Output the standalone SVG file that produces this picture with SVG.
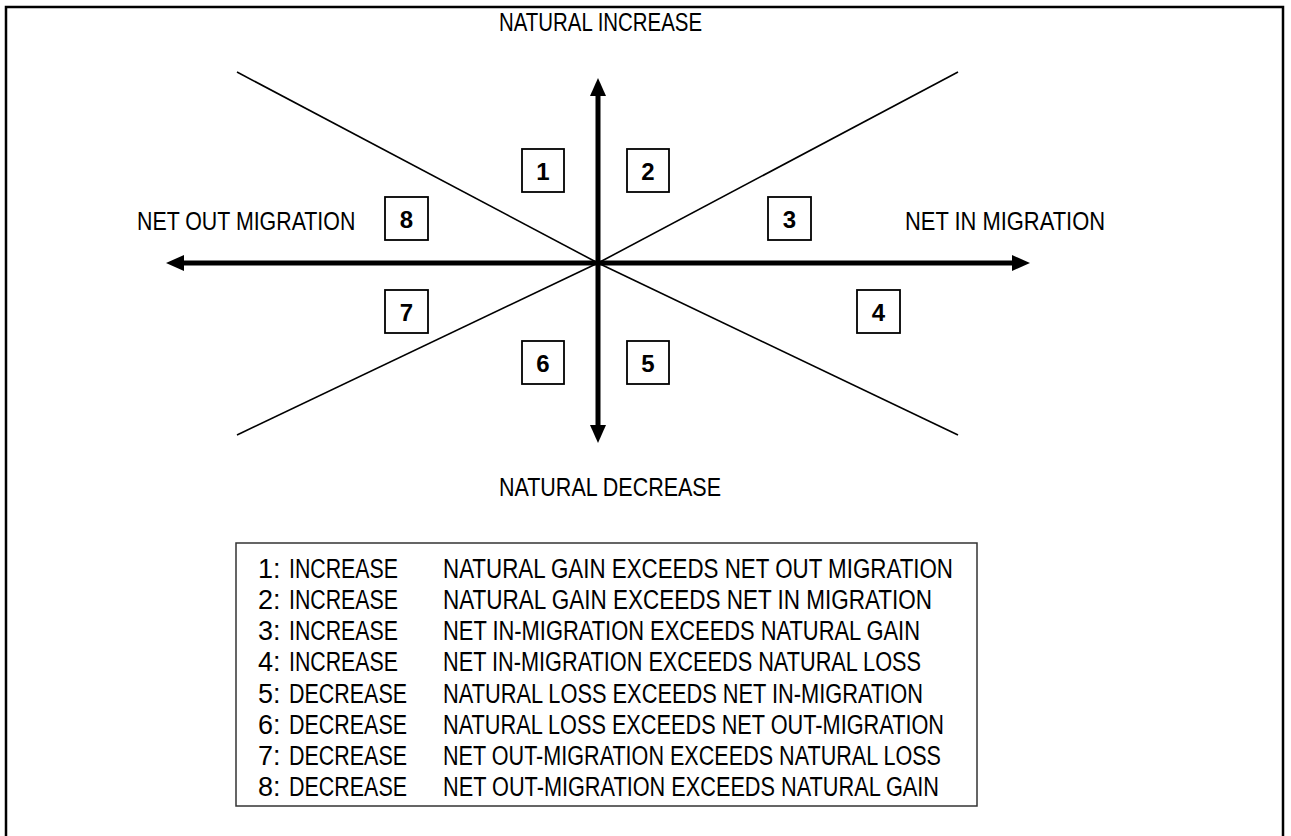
<svg xmlns="http://www.w3.org/2000/svg" width="1291" height="836" viewBox="0 0 1291 836">
<defs>
<style>
.t{font-family:"Liberation Sans Narrow","Liberation Sans",Arial,sans-serif;fill:#000}
.lab{font-size:26px}
.leg{font-size:27px}
.num{font-size:24px;font-weight:bold;text-anchor:middle}
.box{fill:#fff;stroke:#000;stroke-width:1.8}
.axis{stroke:#000;stroke-width:5;fill:none}
.diag{stroke:#000;stroke-width:1.6;fill:none}
</style>
<marker id="ah" markerUnits="userSpaceOnUse" markerWidth="20" markerHeight="18" refX="8" refY="8" orient="auto" viewBox="0 0 20 18">
<path d="M0,0 L18,8 L0,16 z" fill="#000"/>
</marker>
</defs>
<rect x="0" y="0" width="1291" height="836" fill="#fff"/>
<rect x="6" y="7" width="1277" height="900" fill="none" stroke="#000" stroke-width="2.5"/>
<g id="connectors">
<line class="diag" x1="237" y1="72" x2="598" y2="263"/>
<line class="diag" x1="958" y1="72" x2="598" y2="263"/>
<line class="diag" x1="237" y1="435" x2="598" y2="263"/>
<line class="diag" x1="958" y1="435" x2="598" y2="263"/>
<line class="axis" x1="598" y1="263" x2="598" y2="88" marker-end="url(#ah)"/>
<line class="axis" x1="598" y1="263" x2="598" y2="433" marker-end="url(#ah)"/>
<line class="axis" x1="598" y1="263" x2="176" y2="263" marker-end="url(#ah)"/>
<line class="axis" x1="598" y1="263" x2="1020" y2="263" marker-end="url(#ah)"/>
</g>
<g id="axis-labels">
<text class="t lab" x="499" y="31" textLength="203" lengthAdjust="spacingAndGlyphs">NATURAL INCREASE</text>
<text class="t lab" transform="translate(137,230) scale(0.822,1)">NET OUT MIGRATION</text>
<text class="t lab" x="905" y="230" textLength="200" lengthAdjust="spacingAndGlyphs">NET IN MIGRATION</text>
<text class="t lab" x="499" y="496" textLength="222" lengthAdjust="spacingAndGlyphs">NATURAL DECREASE</text>
</g>
<g id="n1"><rect class="box" x="522" y="149" width="42" height="43"/><text class="t num" x="543" y="180">1</text></g>
<g id="n2"><rect class="box" x="627" y="149" width="42" height="43"/><text class="t num" x="648" y="180">2</text></g>
<g id="n3"><rect class="box" x="768" y="197" width="43" height="43"/><text class="t num" x="789.5" y="228">3</text></g>
<g id="n4"><rect class="box" x="857" y="290" width="43" height="43"/><text class="t num" x="878.5" y="321">4</text></g>
<g id="n5"><rect class="box" x="627" y="341" width="42" height="43"/><text class="t num" x="648" y="372">5</text></g>
<g id="n6"><rect class="box" x="522" y="341" width="42" height="43"/><text class="t num" x="543" y="372">6</text></g>
<g id="n7"><rect class="box" x="385" y="290" width="43" height="43"/><text class="t num" x="406.5" y="321">7</text></g>
<g id="n8"><rect class="box" x="385" y="197" width="43" height="43"/><text class="t num" x="406.5" y="228">8</text></g>
<g id="legend">
<rect x="236" y="543" width="741" height="263" fill="#fff" stroke="#333" stroke-width="1.5"/>
<text class="t leg" y="578"><tspan x="258">1:</tspan><tspan x="289" textLength="109" lengthAdjust="spacingAndGlyphs">INCREASE</tspan><tspan x="443" textLength="510" lengthAdjust="spacingAndGlyphs">NATURAL GAIN EXCEEDS NET OUT MIGRATION</tspan></text>
<text class="t leg" y="609"><tspan x="258">2:</tspan><tspan x="289" textLength="109" lengthAdjust="spacingAndGlyphs">INCREASE</tspan><tspan x="443" textLength="489" lengthAdjust="spacingAndGlyphs">NATURAL GAIN EXCEEDS NET IN MIGRATION</tspan></text>
<text class="t leg" y="640"><tspan x="258">3:</tspan><tspan x="289" textLength="109" lengthAdjust="spacingAndGlyphs">INCREASE</tspan><tspan x="443" textLength="477" lengthAdjust="spacingAndGlyphs">NET IN-MIGRATION EXCEEDS NATURAL GAIN</tspan></text>
<text class="t leg" y="671"><tspan x="258">4:</tspan><tspan x="289" textLength="109" lengthAdjust="spacingAndGlyphs">INCREASE</tspan><tspan x="443" textLength="478" lengthAdjust="spacingAndGlyphs">NET IN-MIGRATION EXCEEDS NATURAL LOSS</tspan></text>
<text class="t leg" y="703"><tspan x="258">5:</tspan><tspan x="289" textLength="118" lengthAdjust="spacingAndGlyphs">DECREASE</tspan><tspan x="443" textLength="480" lengthAdjust="spacingAndGlyphs">NATURAL LOSS EXCEEDS NET IN-MIGRATION</tspan></text>
<text class="t leg" y="734"><tspan x="258">6:</tspan><tspan x="289" textLength="118" lengthAdjust="spacingAndGlyphs">DECREASE</tspan><tspan x="443" textLength="501" lengthAdjust="spacingAndGlyphs">NATURAL LOSS EXCEEDS NET OUT-MIGRATION</tspan></text>
<text class="t leg" y="765"><tspan x="258">7:</tspan><tspan x="289" textLength="118" lengthAdjust="spacingAndGlyphs">DECREASE</tspan><tspan x="443" textLength="498" lengthAdjust="spacingAndGlyphs">NET OUT-MIGRATION EXCEEDS NATURAL LOSS</tspan></text>
<text class="t leg" y="796"><tspan x="258">8:</tspan><tspan x="289" textLength="118" lengthAdjust="spacingAndGlyphs">DECREASE</tspan><tspan x="443" textLength="496" lengthAdjust="spacingAndGlyphs">NET OUT-MIGRATION EXCEEDS NATURAL GAIN</tspan></text>
</g>
</svg>
